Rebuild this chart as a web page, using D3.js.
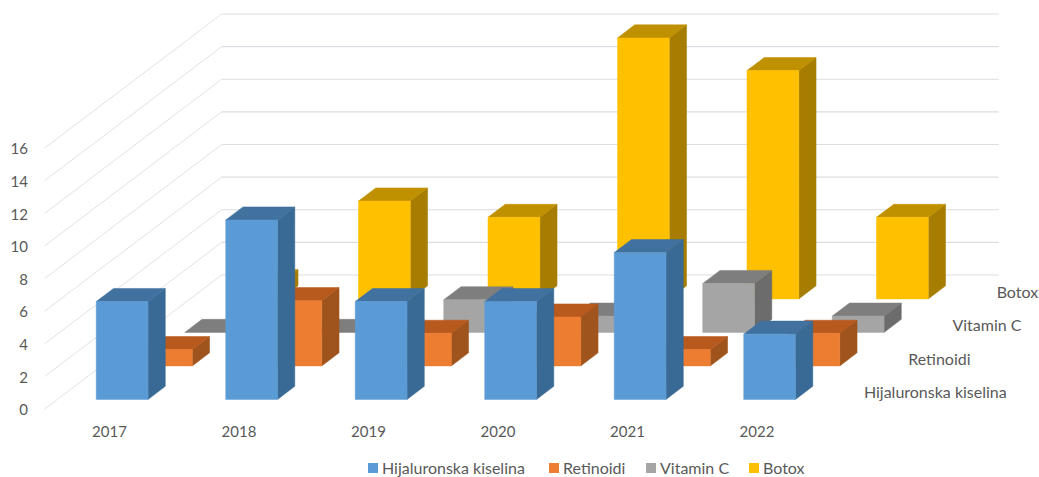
<!DOCTYPE html>
<html>
<head>
<meta charset="utf-8">
<script src="https://cdn.jsdelivr.net/npm/d3@7"></script>
<style>
    body { margin: 0; background: #fff; }
    text { font-family: Lato, sans-serif; fill: #595959; }
    .axis text { font-size: 15px; }
    .axis path { display: none; }
</style>
</head>
<body>
<div id="chart"></div>
<script>
const years = ["2017", "2018", "2019", "2020", "2021", "2022"];
const seriesNames = ["Hijaluronska kiselina", "Retinoidi", "Vitamin C", "Botox"];
const hijaluronska = [6, 11, 6, 6, 9, 4];
const retinoidi = [1, 4, 2, 3, 1, 2];
const vitaminC = [0, 0, 2, 1, 3, 1];
const botox = [1, 6, 5, 16, 14, 5];
const yTicks = [0, 2, 4, 6, 8, 10, 12, 14, 16];

const seriesValues = [hijaluronska, retinoidi, vitaminC, botox];
const front = ["#5b9bd5", "#ed7d31", "#a5a5a5", "#ffc000"];
const top_ = ["#41719f", "#b8591d", "#7e7e7e", "#bf9000"];
const side = ["#396a95", "#a0541d", "#6c6c6c", "#a67d00"];

const width = 1039, height = 477;
const originX = 44.7;
const wallWidth = 777, floorDepth = 177;
const skew = 134 / 177; // screen rise per px of depth

const svg = d3.select("#chart").append("svg")
    .attr("width", width)
    .attr("height", height);

const x = d3.scaleBand().domain(years).range([0, wallWidth]).paddingInner(0.6).paddingOuter(0.3);
const y = d3.scaleLinear().domain([0, 16]).range([409, 148]);
const depth = d3.scaleBand().domain(seriesNames).range([0, floorDepth])
    .paddingInner(0.61).paddingOuter(0.305).align(0.47);

// depth axis maps to a shift right and up
let px = (xv, d) => originX + xv + d;
let py = (v, d) => y(v) - d * skew;

// Walls
let walls = svg.append("g").attr("class", "walls");
walls.selectAll(".side-grid")
    .data(yTicks)
    .join("line")
    .attr("class", "side-grid")
    .attr("x1", px(0, 0))
    .attr("y1", d => py(d, 0))
    .attr("x2", px(0, floorDepth))
    .attr("y2", d => py(d, floorDepth))
    .attr("stroke", "#d9d9d9")
    .attr("stroke-width", 0.8);
walls.selectAll(".back-grid")
    .data(yTicks)
    .join("line")
    .attr("class", "back-grid")
    .attr("x1", px(0, floorDepth))
    .attr("y1", d => py(d, floorDepth))
    .attr("x2", px(wallWidth, floorDepth))
    .attr("y2", d => py(d, floorDepth))
    .attr("stroke", "#dcdde2")
    .attr("stroke-width", 1.2);

// Bars, back row first
let bars = [];
d3.range(seriesNames.length).reverse().forEach(s => {
    years.forEach((year, i) => {
        bars.push({ s: s, year: year, value: seriesValues[s][i] });
    });
});

let points = arr => arr.map(p => p.join(",")).join(" ");
let barGroups = svg.append("g").selectAll(".bar")
    .data(bars)
    .join("g")
    .attr("class", "bar");

function corner(d, atRight, atBack, atTop) {
    let xv = x(d.year) + (atRight ? x.bandwidth() : 0);
    let dv = depth(seriesNames[d.s]) + (atBack ? depth.bandwidth() : 0);
    return [px(xv, dv), py(atTop ? d.value : 0, dv)];
}

// thin same-colour stroke closes the seams between faces
barGroups.filter(d => d.value > 0).append("polygon")
    .attr("points", d => points([corner(d, 1, 0, 0), corner(d, 1, 1, 0), corner(d, 1, 1, 1), corner(d, 1, 0, 1)]))
    .attr("fill", d => side[d.s])
    .attr("stroke", d => side[d.s])
    .attr("stroke-width", 0.5);
barGroups.append("polygon")
    .attr("points", d => points([corner(d, 0, 0, 1), corner(d, 1, 0, 1), corner(d, 1, 1, 1), corner(d, 0, 1, 1)]))
    .attr("fill", d => top_[d.s])
    .attr("stroke", d => top_[d.s])
    .attr("stroke-width", 0.5);
barGroups.filter(d => d.value > 0).append("polygon")
    .attr("points", d => points([corner(d, 0, 0, 0), corner(d, 1, 0, 0), corner(d, 1, 0, 1), corner(d, 0, 0, 1)]))
    .attr("fill", d => front[d.s])
    .attr("stroke", d => front[d.s])
    .attr("stroke-width", 0.5);

// Axes
svg.append("g")
    .attr("class", "axis y-axis")
    .attr("transform", "translate(28,1)")
    .call(d3.axisLeft(y).tickValues(yTicks).tickSize(0).tickPadding(0));

svg.append("g")
    .attr("class", "axis x-axis")
    .attr("transform", `translate(${originX},426)`)
    .call(d3.axisBottom(x).tickSize(0).tickPadding(0));

// Series names along the depth axis
svg.selectAll(".series-label")
    .data(seriesNames)
    .join("text")
    .attr("class", "series-label")
    .attr("x", d => px(wallWidth, depth(d)) + 29.5)
    .attr("y", d => py(0, depth(d)) - 1)
    .attr("font-size", 16)
    .text(d => d);

// Legend
const legendX = [368, 549, 646, 749];
let legend = svg.selectAll(".legend-item")
    .data(seriesNames)
    .join("g")
    .attr("class", "legend-item")
    .attr("transform", (d, i) => `translate(${legendX[i]},468)`);
legend.append("rect")
    .attr("y", -5)
    .attr("width", 10)
    .attr("height", 10)
    .attr("fill", (d, i) => front[i]);
legend.append("text")
    .attr("x", 14)
    .attr("dy", "0.35em")
    .attr("font-size", 16)
    .text(d => d);
</script>
</body>
</html>
